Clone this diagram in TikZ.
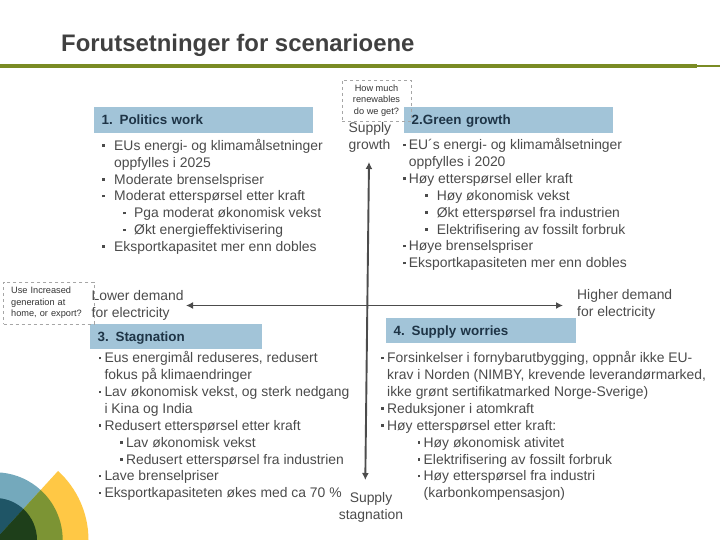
\documentclass[tikz,border=0pt]{standalone}
\usepackage{fontspec}
\setmainfont{Liberation Sans}
\usetikzlibrary{arrows.meta}
\definecolor{textgray}{RGB}{75, 75, 75}
\definecolor{titlegray}{RGB}{64, 64, 64}
\definecolor{headblue}{RGB}{162, 196, 216}
\definecolor{headdark}{RGB}{30, 52, 70}
\definecolor{barolive}{RGB}{122, 139, 36}
\definecolor{logoyellow}{RGB}{255, 200, 69}
\definecolor{logoblue}{RGB}{116, 169, 188}
\definecolor{logogreen}{RGB}{124, 148, 52}
\definecolor{logoteal}{RGB}{31, 85, 102}
\definecolor{logodark}{RGB}{30, 63, 26}
\newcommand{\blt}[1][6pt]{\makebox[#1][l]{\rule[3.5pt]{2.6pt}{2.6pt}}}
\begin{document}
\begin{tikzpicture}[
	x=1pt, y=1pt,
	headbox/.style={fill=headblue, anchor=west, minimum height=25.5pt, inner xsep=7.5pt,
		inner ysep=0pt, align=left, text=headdark, text height=9.8pt, text depth=0.4pt,
		font=\fontsize{13.4}{15}\selectfont\bfseries},
	bodytext/.style={anchor=north west, inner sep=0pt, align=left, text=textgray,
		font=\fontsize{13.9}{16.85}\selectfont},
	qbox/.style={draw=gray!70, dashed, inner sep=0pt, text=black!80,
		font=\fontsize{9.2}{11.4}\selectfont},
	arr/.style={{Latex[length=7pt,width=7pt]}-{Latex[length=7pt,width=7pt]}, draw=black!70, line width=1.9pt}
	]
	\useasboundingbox (0,0) rectangle (720,540);
	% logo
	\begin{scope}
		\clip (0,0) rectangle (720,540);
		\fill[logoyellow] (-5,0) -- ++(0:93.5pt) arc[start angle=0, end angle=47.6, radius=93.5pt] -- cycle;
		\fill[logoblue] (-5,0) -- ++(47.6:67.7pt) arc[start angle=47.6, end angle=120, radius=67.7pt] -- cycle;
		\fill[logogreen] (-5,0) -- ++(0:67.7pt) arc[start angle=0, end angle=47.6, radius=67.7pt] -- cycle;
		\fill[logoteal] (-5,0) -- ++(47.6:42pt) arc[start angle=47.6, end angle=120, radius=42pt] -- cycle;
		\fill[logodark] (-5,0) -- ++(0:42pt) arc[start angle=0, end angle=47.6, radius=42pt] -- cycle;
	\end{scope}
	% title and bar
	\node[anchor=west, inner sep=0pt, text=titlegray, font=\fontsize{23.9}{28}\selectfont\bfseries] (title) at (61,495)
	{Forutsetninger for scenarioene};
	\fill[barolive] (0,472) rectangle (697,476);
	\fill[barolive] (697,472.5) rectangle (720,474.5);
	% headings
	\node[headbox, text width=203.5pt] (head1) at (94,420) {1. Politics work};
	\node[headbox, text width=193.5pt] (head2) at (404,420) {2.Green growth};
	\node[headbox, text width=157pt] (head3) at (90,203.5) {3. Stagnation};
	\node[headbox, text width=174.5pt] (head4) at (386,209.5) {4. Supply worries};
	% scenario text
	\node[bodytext] (body1) at (102,401)
	{\blt[12pt]EUs energi- og klimamålsetninger\\
		\hspace*{12pt}oppfylles i 2025\\
		\blt[12pt]Moderate brenselspriser\\
		\blt[12pt]Moderat etterspørsel etter kraft\\
		\hspace*{21pt}\blt[11pt]Pga moderat økonomisk vekst\\
		\hspace*{21pt}\blt[11pt]Økt energieffektivisering\\
		\blt[12pt]Eksportkapasitet mer enn dobles};
	\node[bodytext] (body2) at (402.7,401.5)
	{\blt EU´s energi- og klimamålsetninger\\
		\hspace*{6pt}oppfylles i 2020\\
		\blt Høy etterspørsel eller kraft\\
		\hspace*{22pt}\blt[12pt]Høy økonomisk vekst\\
		\hspace*{22pt}\blt[12pt]Økt etterspørsel fra industrien\\
		\hspace*{22pt}\blt[12pt]Elektrifisering av fossilt forbruk\\
		\blt Høye brenselspriser\\
		\blt Eksportkapasiteten mer enn dobles};
	\node[bodytext] (body3) at (98.3,188.5)
	{\blt Eus energimål reduseres, redusert\\
		\hspace*{6pt}fokus på klimaendringer\\
		\blt Lav økonomisk vekst, og sterk nedgang\\
		\hspace*{6pt}i Kina og India\\
		\blt Redusert etterspørsel etter kraft\\
		\hspace*{21.5pt}\blt Lav økonomisk vekst\\
		\hspace*{21.5pt}\blt Redusert etterspørsel fra industrien\\
		\blt Lave brenselpriser\\
		\blt Eksportkapasiteten økes med ca 70 \%};
	\node[bodytext] (body4) at (381,188.5)
	{\blt Forsinkelser i fornybarutbygging, oppnår ikke EU-\\
		\hspace*{6pt}krav i Norden (NIMBY, krevende leverandørmarked,\\
		\hspace*{6pt}ikke grønt sertifikatmarked Norge-Sverige)\\
		\blt Reduksjoner i atomkraft\\
		\blt Høy etterspørsel etter kraft:\\
		\hspace*{36.5pt}\blt Høy økonomisk ativitet\\
		\hspace*{36.5pt}\blt Elektrifisering av fossilt forbruk\\
		\hspace*{36.5pt}\blt Høy etterspørsel fra industri\\
		\hspace*{42.5pt}(karbonkompensasjon)};
	% axis labels
	\node[bodytext] (growth) at (348.5,417.5) {Supply\\growth};
	\node[bodytext, align=center, anchor=north] (stagnation) at (371,47.5) {Supply\\stagnation};
	\node[bodytext] (lower) at (91.5,250) {Lower demand\\for electricity};
	\node[bodytext] (higher) at (577,250.5) {Higher demand\\for electricity};
	% questions
	\node[qbox, align=center, minimum width=69pt, minimum height=41pt] (renew) at (376.5,439.5)
	{\raisebox{-1pt}{How much}\\\raisebox{-1pt}{renewables}\\\raisebox{-1pt}{do we get?}};
	\node[qbox, align=left, text width=75pt, inner xsep=7.7pt, minimum height=42pt, anchor=west] (useq) at (3.3,237)
	{\raisebox{-1.5pt}{Use Increased}\\\raisebox{-1.5pt}{generation at}\\\raisebox{-1.5pt}{home, or export?}};
	% axes
	\coordinate (north) at (369,378);
	\coordinate (south) at (365.3,60);
	\coordinate (west) at (186,234.5);
	\coordinate (east) at (563,234.5);
	\draw[arr] (south) -- (north);
	\draw[arr] (west) -- (east);
\end{tikzpicture}
\end{document}
